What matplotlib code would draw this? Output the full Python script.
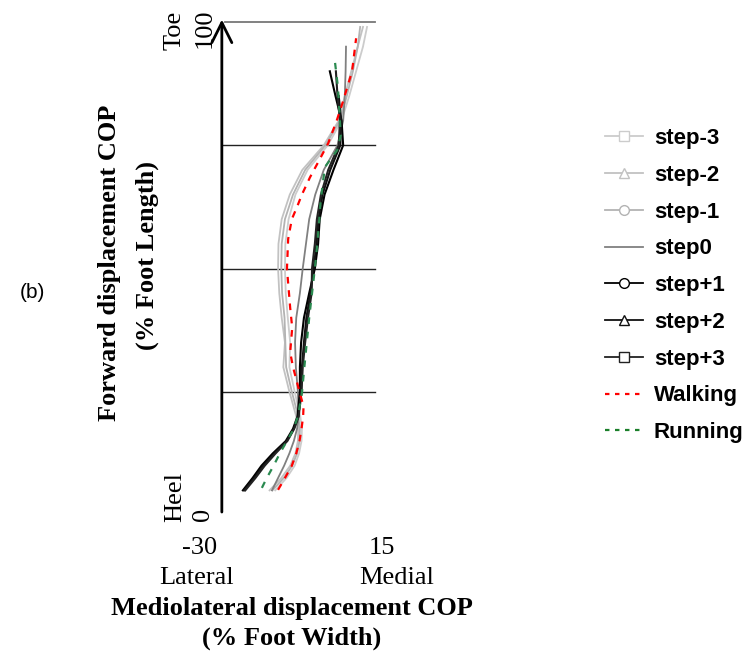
import numpy as np
import matplotlib
matplotlib.use('Agg')
import matplotlib.pyplot as plt
from matplotlib.lines import Line2D

# ----------------------------
# COP trajectories (x: % foot width, y: % foot length)
# ----------------------------
y_step = [5, 7.5, 10, 12.5, 15, 17.5, 20, 25, 30, 35, 40, 45, 50, 55, 60, 65, 70, 75, 80, 85, 90, 95, 99]

step_m3 = [-11.4, -8.6, -6.6, -5.5, -4.9, -4.8, -5.2, -6.6, -7.9, -7.7, -8.3, -8.8, -9.0, -8.9, -8.1, -6.4, -3.4, 1.6, 5.0, 6.9, 8.6, 10.3, 11.3]
step_m2 = [-12.8, -9.9, -7.7, -6.4, -5.8, -5.7, -6.2, -7.9, -9.4, -9.0, -9.8, -10.4, -10.7, -10.6, -9.8, -7.8, -4.7, 0.6, 4.3, 5.8, 7.4, 9.0, 10.3]
step_m1 = [-12.1, -9.3, -7.2, -6.0, -5.4, -5.3, -5.7, -7.3, -8.7, -8.9, -9.1, -9.7, -9.9, -9.8, -9.0, -7.0, -4.0, 1.0, 4.6, 6.3, 7.8, 9.0, 9.6]
step_0 = [-12.2, -10.7, -9.2, -7.9, -6.8, -6.0, -5.6, -5.8, -6.3, -6.5, -6.2, -5.3, -4.6, -3.8, -3.0, -1.5, 0.6, 4.0, 5.4, 5.8, 6.0, 6.1]
step_p1 = [-19.4, -17.0, -14.8, -12.0, -8.8, -7.0, -5.9, -5.3, -5.3, -5.0, -4.3, -3.0, -1.6, -0.8, -0.4, 0.8, 3.0, 5.4, 5.0, 3.5, 2.1]
step_p2 = [-19.1, -16.6, -14.3, -11.6, -8.6, -6.8, -5.7, -5.0, -4.8, -4.3, -3.7, -2.7, -1.9, -1.2, -0.7, 0.3, 2.2, 4.7, 4.9, 4.3]
step_p3 = [-18.8, -16.3, -14.0, -11.3, -8.4, -6.7, -5.6, -4.9, -4.6, -4.0, -3.3, -2.4, -2.3, -1.6, -1.1, -0.1, 1.7, 4.3, 4.6, 4.0, 3.6]

y_walk = [5.1, 7.5, 10, 12.5, 15, 17.5, 20, 22, 25, 30, 33, 38, 42, 50, 56, 60, 62.5, 65, 68.5, 72, 75.4, 80, 84, 90, 96.7]
walking = [-10.7, -9.0, -7.3, -6.2, -5.4, -4.9, -4.5, -4.4, -5.4, -7.0, -7.7, -7.2, -7.7, -8.5, -8.2, -7.3, -6.0, -4.8, -2.8, -0.5, 1.7, 3.8, 5.4, 7.6, 8.6]

y_run = [5.5, 7.5, 10, 12.6, 15, 17.2, 20, 24.7, 30, 35, 40, 45, 50, 55, 60, 62.5, 67, 70.6, 74, 77, 80, 86.8, 91.7]
running = [-14.7, -13.5, -11.8, -10.2, -8.5, -7.0, -5.8, -4.8, -4.2, -3.6, -3.0, -2.3, -1.6, -1.0, -0.5, -0.3, 0.3, 0.9, 3.9, 4.8, 4.6, 4.1, 3.4]

grid_levels = [25, 50, 75]

series = [
    ("step-3", step_m3, '#cccccc', 's'),
    ("step-2", step_m2, '#c2c2c2', '^'),
    ("step-1", step_m1, '#b3b3b3', 'o'),
    ("step0", step_0, '#808080', None),
    ("step+1", step_p1, '#000000', 'o'),
    ("step+2", step_p2, '#111111', '^'),
    ("step+3", step_p3, '#222222', 's'),
]

plt.rcParams['font.family'] = ['Liberation Serif', 'DejaVu Serif']

fig = plt.figure(figsize=(7.47, 6.59), dpi=100)
ax = fig.add_axes([200 / 747, 1 - 515 / 659, 182 / 747, 493 / 659])
ax.set_xlim(-30, 15)
ax.set_ylim(0, 100)
ax.axis('off')

# reference lines
ax.plot([-23.8, 13.3], [100, 100], color='#777777', lw=1.3, clip_on=False)
for g in grid_levels:
    ax.plot([-24.6, 13.3], [g, g], color='#222222', lw=1.0, clip_on=False)

# vertical arrow
ax.annotate('', xy=(-24.6, 100.5), xytext=(-24.6, 0.6),
            arrowprops=dict(arrowstyle='->', lw=2, color='black', mutation_scale=36,
                            shrinkA=0, shrinkB=0), annotation_clip=False)

handles = []
for name, xs, col, mk in series:
    yy = y_step[:len(xs)]
    lw = 1.5 if col in ('#000000', '#111111', '#222222') else 1.3
    ax.plot(xs, yy, color=col, lw=lw, clip_on=False)
    handles.append(Line2D([], [], color=col, lw=1.3, marker=mk, markersize=7,
                          markerfacecolor='white', markeredgecolor=col, label=name))

ax.plot(walking, y_walk, color='red', lw=1.6, ls=(0, (3, 3)), clip_on=False)
ax.plot(running, y_run, color='#2a8a50', lw=1.6, ls=(0, (3, 3.5)), clip_on=False)
handles.append(Line2D([], [], color='red', lw=1.6, ls=(0, (2, 2.5)), label='Walking'))
handles.append(Line2D([], [], color='#1a7f2a', lw=1.6, ls=(0, (2, 2.5)), label='Running'))

leg = fig.legend(handles=handles, loc='upper left', bbox_to_anchor=(585 / 747, 1 - 108 / 659),
                 frameon=False, handlelength=1.7, handletextpad=0.5, labelspacing=0.71,
                 prop={'family': 'Liberation Sans', 'weight': 'bold', 'size': 16})

# axis texts
fs = 19
fig.text(175 / 747, 1 - 30 / 659, 'Toe', rotation=90, ha='center', va='center', fontsize=fs)
fig.text(205 / 747, 1 - 28 / 659, '100', rotation=90, ha='center', va='center', fontsize=fs)
fig.text(175 / 747, 1 - 497 / 659, 'Heel', rotation=90, ha='center', va='center', fontsize=fs)
fig.text(203 / 747, 1 - 514 / 659, '0', rotation=90, ha='center', va='center', fontsize=fs)
fig.text(200 / 747, 1 - 548 / 659, '-30', ha='center', va='center', fontsize=fs)
fig.text(382 / 747, 1 - 548 / 659, '15', ha='center', va='center', fontsize=fs)
fig.text(197 / 747, 1 - 578 / 659, 'Lateral', ha='center', va='center', fontsize=fs)
fig.text(397 / 747, 1 - 578 / 659, 'Medial', ha='center', va='center', fontsize=fs)
fig.text(292 / 747, 1 - 608 / 659, 'Mediolateral displacement COP', ha='center', va='center',
         fontsize=fs, fontweight='bold')
fig.text(292 / 747, 1 - 638 / 659, '(% Foot Width)', ha='center', va='center',
         fontsize=fs, fontweight='bold')
fig.text(110 / 747, 1 - 263 / 659, 'Forward displacement COP', rotation=90, ha='center',
         va='center', fontsize=fs, fontweight='bold')
fig.text(147 / 747, 1 - 255 / 659, '(% Foot Length)', rotation=90, ha='center',
         va='center', fontsize=fs, fontweight='bold')
fig.text(32 / 747, 1 - 293 / 659, '(b)', ha='center', va='center', fontsize=15,
         family='Liberation Sans')

plt.savefig('out.png', dpi=100)
